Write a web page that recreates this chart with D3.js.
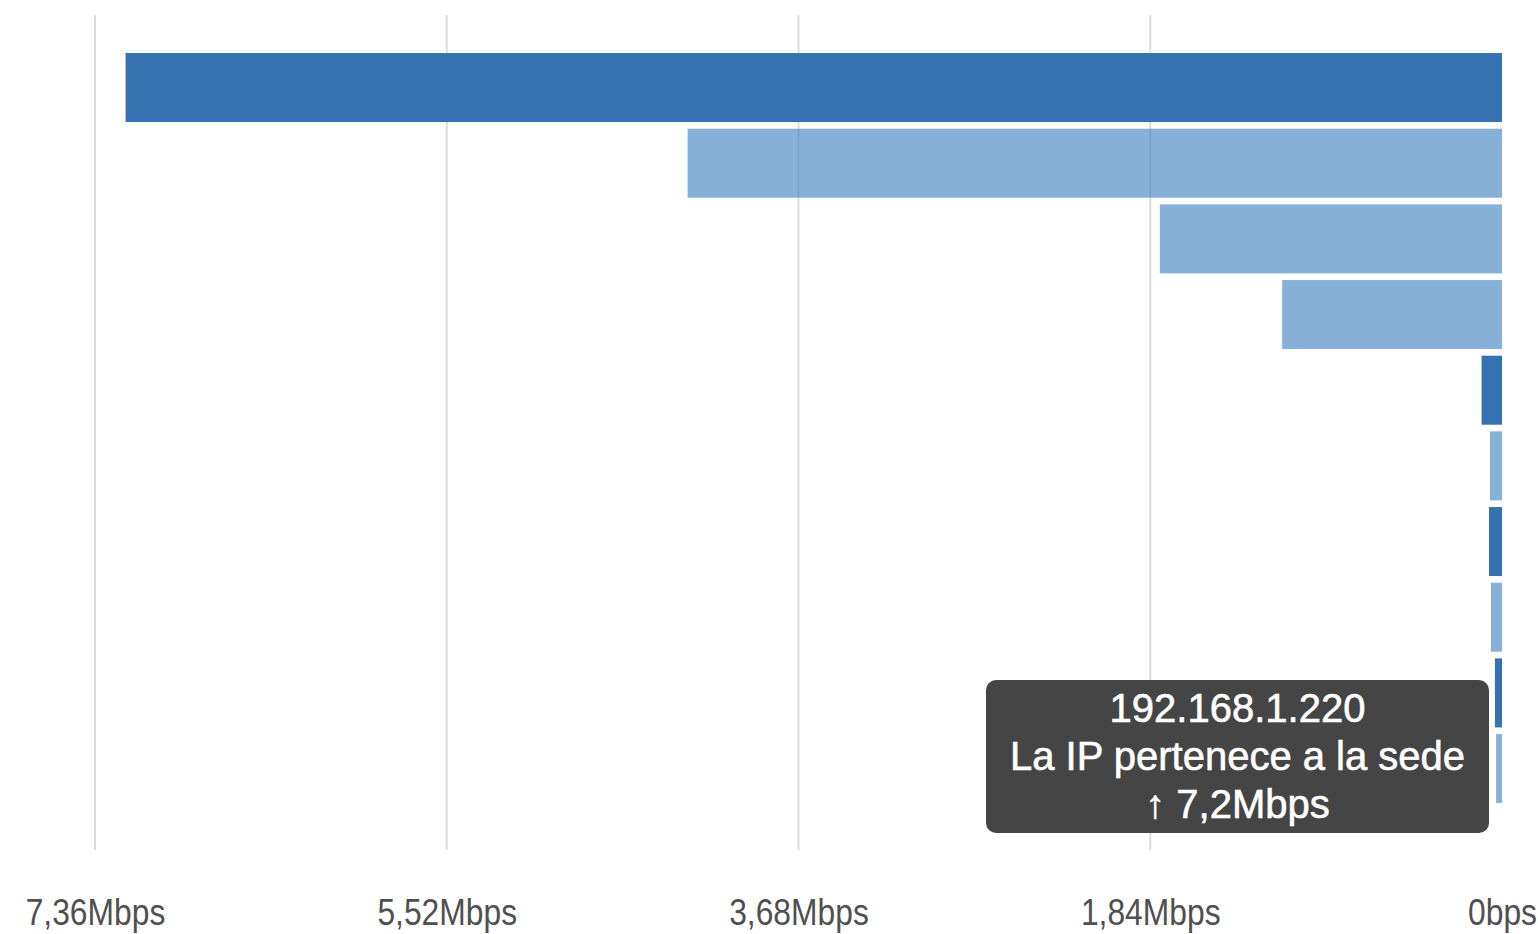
<!DOCTYPE html>
<html>
<head>
<meta charset="utf-8">
<script src="https://cdn.jsdelivr.net/npm/d3@7"></script>
<style>
  html, body { margin: 0; padding: 0; background: #fff; }
  svg { display: block; }
</style>
</head>
<body>
<svg id="chart" width="1538" height="934"></svg>
<script>
// ---- data ----
const hosts = ["192.168.1.220", "192.168.1.101", "192.168.1.35", "192.168.1.47", "192.168.1.12",
               "192.168.1.88", "192.168.1.150", "192.168.1.23", "192.168.1.64", "192.168.1.9"];
const rateMbps = [7.2, 4.26, 1.79, 1.15, 0.107, 0.063, 0.068, 0.058, 0.037, 0.031];
const direction = ["up", "down", "down", "down", "up", "down", "up", "down", "up", "down"];
const tickValues = [7.36, 5.52, 3.68, 1.84, 0];
const tickLabels = ["7,36Mbps", "5,52Mbps", "3,68Mbps", "1,84Mbps", "0bps"];
const tooltipHost = "192.168.1.220";
const tooltipNote = "La IP pertenece a la sede";

// ---- chart ----
const svg = d3.select("#chart");
const data = hosts.map((h, i) => ({ host: h, value: rateMbps[i], dir: direction[i] }));

const x = d3.scaleLinear().domain([7.36, 0]).range([95, 1502]);
const y = d3.scaleBand().domain(hosts).range([49.7, 806.4]).paddingInner(0.088).paddingOuter(0.044);

// gridlines
svg.append("g").selectAll("line")
  .data(tickValues.filter(v => v !== 0))
  .join("line")
  .attr("x1", d => x(d)).attr("x2", d => x(d))
  .attr("y1", 15).attr("y2", 850)
  .attr("stroke", "#dcdcdc").attr("stroke-width", 2);

// bars
svg.append("g").selectAll("rect")
  .data(data)
  .join("rect")
  .attr("x", d => x(d.value))
  .attr("y", d => y(d.host))
  .attr("width", d => x(0) - x(d.value))
  .attr("height", y.bandwidth())
  .attr("fill", d => d.dir === "up" ? "#3572b2" : "#377dbe")
  .attr("fill-opacity", d => d.dir === "up" ? 1 : 0.6);

// axis
const axis = d3.axisBottom(x)
  .tickValues(tickValues)
  .tickSize(0)
  .tickFormat((d, i) => tickLabels[i]);
const gAxis = svg.append("g").attr("transform", "translate(0,898)").call(axis);
gAxis.select(".domain").remove();
gAxis.selectAll("text")
  .attr("dy", 0).attr("y", 27)
  .attr("transform", "scale(0.86,1)")
  .attr("fill", "#505050")
  .style("font-family", "'Liberation Sans', Arial, sans-serif")
  .style("font-size", "37px");

// tooltip
const fmt = d3.formatLocale({ decimal: ",", thousands: ".", grouping: [3], currency: ["", "€"] }).format("~g");
const tipDatum = data.find(d => d.host === tooltipHost);
const tip = svg.append("g");
tip.append("rect")
  .attr("x", 986).attr("y", 680).attr("width", 503).attr("height", 153)
  .attr("rx", 10).attr("fill", "#454545");
const lines = [tipDatum.host, tooltipNote, (tipDatum.dir === "up" ? "↑ " : "↓ ") + fmt(tipDatum.value) + "Mbps"];
tip.selectAll("text")
  .data(lines)
  .join("text")
  .attr("x", 1237.5)
  .attr("y", (d, i) => 722 + i * 48)
  .attr("text-anchor", "middle")
  .attr("fill", "#ffffff")
  .attr("stroke", "#ffffff").attr("stroke-width", 0.6)
  .style("font-family", "'Liberation Sans', Arial, sans-serif")
  .style("font-size", "40px")
  .text(d => d);
</script>
</body>
</html>
